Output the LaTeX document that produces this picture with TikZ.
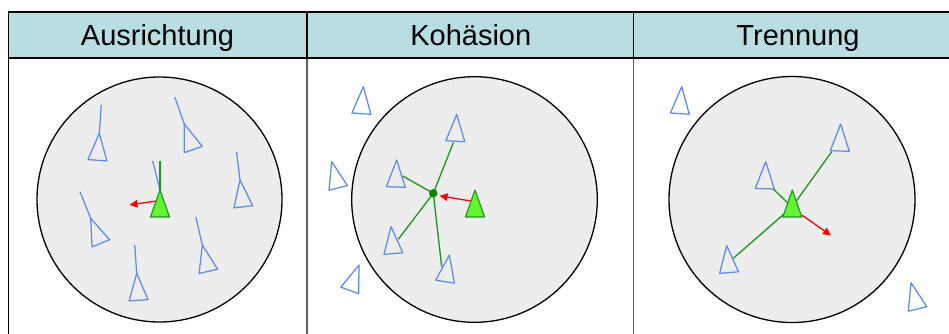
\documentclass[tikz,border=0pt]{standalone}
\usepackage{fontspec}
\setmainfont{Liberation Sans}
\usetikzlibrary{arrows.meta}
\definecolor{headfill}{RGB}{185,222,225}
\definecolor{circfill}{RGB}{237,237,237}
\definecolor{boidblue}{RGB}{90,140,235}
\definecolor{agentfill}{RGB}{100,245,50}
\definecolor{agentdraw}{RGB}{35,150,35}
\definecolor{linkgreen}{RGB}{25,150,25}
\definecolor{dotgreen}{RGB}{0,135,0}
\definecolor{divgrey}{RGB}{95,95,95}
\tikzset{
  boidline/.style={draw=boidblue, line width=1.25pt, line join=round},
  boid/.pic={\draw[boidline] (0,0) -- (-9.5,27) -- (9.5,27) -- cycle;},
  boidh/.pic={\draw[boidline] (0,0) -- (-9.5,27) -- (9.5,27) -- cycle;
              \draw[boidline] (0,0) -- (0,-28.5);},
  agent/.pic={\filldraw[fill=agentfill, draw=agentdraw, line width=1.2pt, line join=round] (0,0) -- (-9.5,27) -- (9.5,27) -- cycle;},
  zone/.style={draw=black, fill=circfill, line width=1.3pt},
  link/.style={draw=linkgreen, line width=1.3pt},
  steer/.style={draw=red, line width=1.3pt, -{Triangle[length=8pt,width=7.5pt]}},
  head/.style={font=\fontsize{29}{33}\selectfont, anchor=base},
}
\begin{document}
\begin{tikzpicture}[x=1pt,y=-1pt]
\useasboundingbox (0,0) rectangle (949,333);
% table
\fill[headfill] (8.5,12) rectangle (960,58);
\draw[divgrey, line width=1.8pt] (307.3,58) -- (307.3,340);
\draw[divgrey, line width=1.8pt] (633.5,58) -- (633.5,340);
\draw[black, line width=1.8pt] (8.5,340) -- (8.5,12) -- (960,12);
\draw[black, line width=1.8pt] (8.5,58) -- (960,58);
\draw[black, line width=1.8pt] (307.3,12) -- (307.3,58);
\draw[black, line width=1.8pt] (633.5,12) -- (633.5,58);
\node[head] (h1) at (157.5,45) {Ausrichtung};
\node[head] (h2) at (470.8,45) {Kohäsion};
\node[head] (h3) at (798,45) {Trennung};
% zones
\draw[zone] (159.5,199.5) circle (122.5);
\draw[zone] (474.5,199.5) circle (122.8);
\draw[zone] (792,199.5) circle (123);
% ---- panel 1: Ausrichtung
\pic[rotate=-4] at (99.3,133.3) {boidh};
\pic[rotate=19.5] at (184.3,124) {boidh};
\pic[rotate=7] at (240,180) {boidh};
\pic[rotate=22] at (90.7,218.3) {boidh};
\pic[rotate=4] at (136.7,273.3) {boidh};
\pic[rotate=13] at (202.3,245) {boidh};
\coordinate (a1) at (160,190);
\coordinate (a1g) at (160,160.5);
\coordinate (a1b) at (152.7,161);
\coordinate (r1s) at (156,201);
\coordinate (r1e) at (129.5,205);
\draw[boidline] (a1) -- (a1b);
\draw[link] (a1) -- (a1g);
\draw[steer] (r1s) -- (r1e);
\pic at (a1) {agent};
% ---- panel 2: Kohaesion
\pic[rotate=-4] at (363.3,86.7) {boid};
\pic[rotate=14] at (331.7,161.7) {boid};
\pic[rotate=-20] at (359,265) {boid};
\pic[rotate=-3] at (456.7,114.3) {boid};
\pic[rotate=-2] at (396.7,160) {boid};
\pic[rotate=5] at (391,226.7) {boid};
\pic[rotate=-9] at (449.3,255) {boid};
\coordinate (c2) at (433.3,193.3);
\coordinate (k1) at (453.3,142.7);
\coordinate (k2) at (402.7,176);
\coordinate (k3) at (398.3,239.3);
\coordinate (k4) at (441.7,266.7);
\draw[link] (c2) -- (k1);
\draw[link] (c2) -- (k2);
\draw[link] (c2) -- (k3);
\draw[link] (c2) -- (k4);
\fill[dotgreen] (c2) circle (4.2);
\coordinate (r2s) at (470.7,201);
\coordinate (r2e) at (439.5,195.8);
\draw[steer] (r2s) -- (r2e);
\pic at (475,190) {agent};
% ---- panel 3: Trennung
\pic[rotate=-4] at (681.7,86.7) {boid};
\pic[rotate=14] at (911,282.7) {boid};
\pic[rotate=-2] at (840.7,124) {boid};
\pic[rotate=-2] at (765.7,161.7) {boid};
\pic[rotate=5] at (726.7,245.7) {boid};
\coordinate (c3) at (792,207);
\coordinate (s1) at (831.7,151.7);
\coordinate (s2) at (773.3,189);
\coordinate (s3) at (733.3,258.3);
\draw[link] (c3) -- (s1);
\draw[link] (c3) -- (s2);
\draw[link] (c3) -- (s3);
\coordinate (r3s) at (801.7,215);
\coordinate (r3e) at (831,235.5);
\draw[steer] (r3s) -- (r3e);
\pic at (792.3,190) {agent};
\end{tikzpicture}
\end{document}
